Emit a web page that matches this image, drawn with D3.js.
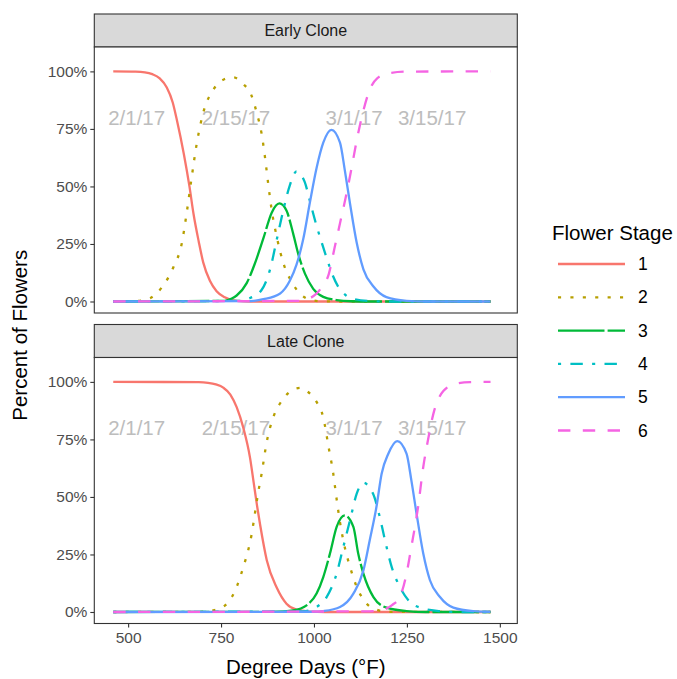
<!DOCTYPE html>
<html>
<head>
<meta charset="utf-8">
<script src="https://cdn.jsdelivr.net/npm/d3@7"></script>
<style>
  body { margin: 0; background: #fff; }
  text { font-family: "Liberation Sans", Arial, Helvetica, sans-serif; }
</style>
</head>
<body>
<svg id="chart" width="677" height="679"></svg>
<script>
// ---- data ---------------------------------------------------------------
const clones = ["Early Clone", "Late Clone"];
const stages = ["1", "2", "3", "4", "5", "6"];
const xTicks = [500, 750, 1000, 1250, 1500];
const yTicks = [0, 25, 50, 75, 100];
const dateLabels = ["2/1/17", "2/15/17", "3/1/17", "3/15/17"];
const dateDegreeDays = [523, 790, 1108, 1318];
const dateLabelLevel = 80;

// [degree days, percent of flowers] for each flower stage, early clone
const early1 = [[460,100],[520,99.9],[545,99.6],[565,98.8],[585,97],[604,93],[620,86.5],[631,79],[650,64],[665,50],[676,38],[690,26],[702,17],[720,9],[738,4.5],[760,1.8],[780,0.6],[810,0.1],[850,0],[1475,0]];
const early2 = [[460,0],[530,0.3],[559,1.4],[590,6],[622,15],[644,25],[658,39],[671,54],[685,69],[702,82],[729,92],[756,96.4],[783,97.4],[810,94.5],[832,89.5],[846,82],[859,73],[868,63],[877,51],[886,40],[900,28],[918,16.5],[940,8.5],[962,3.5],[989,0.8],[1020,0.1],[1060,0],[1475,0]];
const early3 = [[460,0],[760,0.3],[779,1.3],[792,2.6],[819,8],[841,16.5],[864,27.5],[886,38.5],[907,42.6],[926,39.5],[944,29.5],[958,20.5],[976,12],[998,5.5],[1025,2],[1061,0.6],[1100,0.1],[1150,0],[1475,0]];
const early4 = [[460,0],[800,0.3],[828,1.5],[859,5],[882,14],[900,27],[918,40],[935,50.5],[953,56.5],[975,52],[990,43],[1005,34],[1020,26],[1034,19],[1050,11.5],[1065,6.5],[1085,2.8],[1110,1],[1150,0.2],[1200,0],[1475,0]];
const early5 = [[460,0],[830,0.2],[864,1],[909,3.5],[935,9],[953,16],[971,27],[989,43],[1007,58],[1025,69],[1047,74.6],[1070,69],[1083,57],[1097,42.5],[1115,25.5],[1133,14],[1160,6.5],[1195,1.9],[1249,0.3],[1300,0],[1475,0]];
const early6 = [[460,0],[960,0.3],[990,1.5],[1005,3.2],[1020,6],[1040,12],[1055,23],[1070,34],[1085,45],[1100,57],[1115,70],[1133,83],[1150,92],[1170,97],[1204,99.3],[1250,99.9],[1475,100]];

// [degree days, percent of flowers] for each flower stage, late clone
const late1 = [[460,100],[690,99.9],[715,99.6],[736,98.9],[756,97.5],[775,94.5],[792,89],[810,80],[828,67],[838,56],[847,46],[855,38],[873,22.5],[900,10.5],[926,3.6],[953,1],[989,0.2],[1030,0],[1475,0]];
const late2 = [[460,0],[700,0.1],[729,0.7],[761,2.9],[792,10.9],[810,19.6],[824,27.5],[832,33.5],[841,42.7],[850,52],[859,60],[873,74],[891,84.8],[917,92.5],[949,97],[965,97.4],[980,96.1],[1007,91.3],[1025,84.5],[1039,72],[1052,60],[1061,49],[1070,39],[1083,28],[1097,19.6],[1115,10.9],[1142,3.6],[1168,1],[1200,0.1],[1475,0]];
const late3 = [[460,0],[900,0.1],[944,0.7],[980,2.9],[1007,8],[1025,15.2],[1043,25.4],[1061,37],[1083,42],[1106,37],[1119,25.4],[1133,16.7],[1160,6.5],[1195,1.9],[1249,0.4],[1300,0],[1475,0]];
const late4 = [[460,0],[970,0.3],[1007,2.2],[1034,6.5],[1061,16.7],[1079,28.3],[1097,39.9],[1115,51.4],[1132,56.2],[1159,51.4],[1177,41.3],[1191,31.2],[1209,19.6],[1231,10.9],[1258,4.4],[1294,1.5],[1339,0.4],[1380,0],[1475,0]];
const late5 = [[460,0],[1000,0.1],[1025,0.4],[1070,2.2],[1106,8],[1133,18.1],[1150,31.2],[1168,45.6],[1182,60.1],[1200,68.8],[1224,74.3],[1249,68.8],[1262,57.2],[1276,42.7],[1294,25.4],[1312,13.8],[1339,6.5],[1375,1.9],[1428,0.4],[1475,0.1]];
const late6 = [[460,0],[1150,0.3],[1186,1],[1210,3],[1231,6.5],[1249,16.7],[1262,28.3],[1280,45.6],[1294,63],[1307,75],[1321,86],[1348,96],[1383,99.3],[1420,99.9],[1475,100]];

const cloneSeries = [
  [early1, early2, early3, early4, early5, early6],
  [late1, late2, late3, late4, late5, late6]
];

// ---- styling --------------------------------------------------------------
const stageColors = ["#F8766D", "#B79F00", "#00BA38", "#00BFC4", "#619CFF", "#F564E3"];
const stageDashes = [null, "3.1,9.3", "46.5,3.1", "3.1,9.3,12.4,9.3", null, "12.4,12.4"];

// ---- layout ---------------------------------------------------------------
const svg = d3.select("#chart");
const panelLeft = 94.3, panelWidth = 423, panelHeight = 266, stripHeight = 33;
const panelTops = [47, 357.5];

const x = d3.scaleLinear().domain([409, 1547]).range([0, panelWidth]);
const y = d3.scaleLinear().domain([-5, 110.6]).range([panelHeight, 0]);

const line = d3.line()
  .x(d => x(d[0]))
  .y(d => y(d[1]))
  .curve(d3.curveMonotoneX);

clones.forEach((clone, ci) => {
  const top = panelTops[ci];

  // facet strip
  const strip = svg.append("g").attr("transform", `translate(${panelLeft},${top - stripHeight})`);
  strip.append("rect")
    .attr("width", panelWidth).attr("height", stripHeight)
    .attr("fill", "#D9D9D9").attr("stroke", "#333333").attr("stroke-width", 1.1);
  strip.append("text")
    .attr("x", panelWidth / 2).attr("y", stripHeight / 2)
    .attr("text-anchor", "middle").attr("dominant-baseline", "central")
    .attr("font-size", 16).attr("fill", "#1A1A1A")
    .text(clone);

  const g = svg.append("g").attr("transform", `translate(${panelLeft},${top})`);
  g.append("rect").attr("width", panelWidth).attr("height", panelHeight).attr("fill", "#fff");

  // calendar date markers
  g.selectAll(".date").data(dateLabels).join("text")
    .attr("class", "date")
    .attr("x", (d, i) => x(dateDegreeDays[i]))
    .attr("y", y(dateLabelLevel))
    .attr("text-anchor", "middle").attr("dominant-baseline", "central")
    .attr("font-size", 20.5).attr("fill", "#BDBDBD")
    .text(d => d);

  // stage curves
  cloneSeries[ci].forEach((series, si) => {
    g.append("path")
      .datum(series)
      .attr("d", line)
      .attr("fill", "none")
      .attr("stroke", stageColors[si])
      .attr("stroke-width", 2.3)
      .attr("stroke-linecap", "butt")
      .attr("stroke-dasharray", stageDashes[si]);
  });

  // panel border
  g.append("rect").attr("width", panelWidth).attr("height", panelHeight)
    .attr("fill", "none").attr("stroke", "#333333").attr("stroke-width", 1.1);

  // y axis
  const ya = g.append("g").call(
    d3.axisLeft(y).tickValues(yTicks).tickFormat(d => d + "%").tickSize(4).tickPadding(3)
  );
  ya.select(".domain").remove();
  ya.selectAll(".tick line").attr("stroke", "#333333").attr("stroke-width", 1.1);
  ya.selectAll(".tick text")
    .attr("font-size", 15.5).attr("fill", "#4D4D4D")
    .style("font-family", "'Liberation Sans', Arial, sans-serif");

  // x axis on the bottom facet only
  if (ci === clones.length - 1) {
    const xa = g.append("g").attr("transform", `translate(0,${panelHeight})`).call(
      d3.axisBottom(x).tickValues(xTicks).tickFormat(d3.format("d")).tickSize(4).tickPadding(4)
    );
    xa.select(".domain").remove();
    xa.selectAll(".tick line").attr("stroke", "#333333").attr("stroke-width", 1.1);
    xa.selectAll(".tick text")
      .attr("font-size", 15.5).attr("fill", "#4D4D4D")
      .style("font-family", "'Liberation Sans', Arial, sans-serif");
  }
});

// axis titles
svg.append("text")
  .attr("x", panelLeft + panelWidth / 2).attr("y", 674)
  .attr("text-anchor", "middle").attr("font-size", 20.5).attr("fill", "#000")
  .text("Degree Days (°F)");

svg.append("text")
  .attr("transform", `translate(27,${(panelTops[0] + panelTops[1] + panelHeight) / 2}) rotate(-90)`)
  .attr("text-anchor", "middle").attr("font-size", 20.5).attr("fill", "#000")
  .text("Percent of Flowers");

// legend
const legend = svg.append("g").attr("transform", "translate(552,0)");
legend.append("text")
  .attr("x", 0).attr("y", 240)
  .attr("font-size", 20.5).attr("fill", "#000")
  .text("Flower Stage");

const itemY = i => 264 + i * 33.3;
stages.forEach((s, i) => {
  legend.append("line")
    .attr("x1", 6).attr("x2", 73)
    .attr("y1", itemY(i)).attr("y2", itemY(i))
    .attr("stroke", stageColors[i]).attr("stroke-width", 2.3)
    .attr("stroke-dasharray", stageDashes[i]);
  legend.append("text")
    .attr("x", 86).attr("y", itemY(i))
    .attr("dominant-baseline", "central")
    .attr("font-size", 17.5).attr("fill", "#000")
    .text(s);
});
</script>
</body>
</html>
